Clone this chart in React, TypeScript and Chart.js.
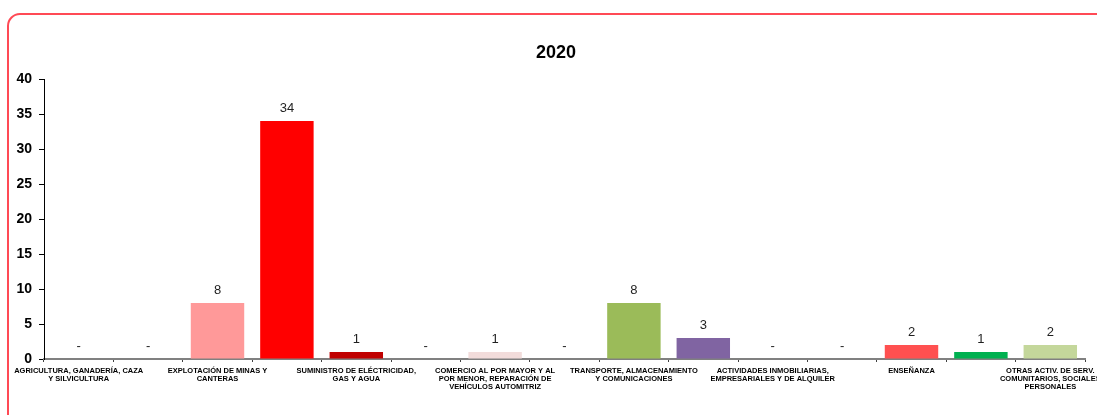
import React, { useEffect, useRef } from "react";
import { Chart, registerables } from "chart.js";

Chart.register(...registerables);

const chartTitle = "2020";

const categories: string[][] = [
  ["AGRICULTURA, GANADERÍA, CAZA", "Y SILVICULTURA"],
  ["PESCA"],
  ["EXPLOTACIÓN DE MINAS Y", "CANTERAS"],
  ["INDUSTRIAS MANUFACTURERAS"],
  ["SUMINISTRO DE ELÉCTRICIDAD,", "GAS Y AGUA"],
  ["CONSTRUCCIÓN"],
  ["COMERCIO AL POR MAYOR Y AL", "POR MENOR, REPARACIÓN DE", "VEHÍCULOS AUTOMITRIZ"],
  ["HOTELES Y RESTAURANTES"],
  ["TRANSPORTE, ALMACENAMIENTO", "Y COMUNICACIONES"],
  ["INTERMEDIACIÓN FINANCIERA"],
  ["ACTIVIDADES INMOBILIARIAS,", "EMPRESARIALES Y DE ALQUILER"],
  ["ADMINISTRACIÓN PÚBLICA Y DEFENSA"],
  ["ENSEÑANZA"],
  ["SERVICIOS SOCIALES Y DE SALUD"],
  ["OTRAS ACTIV. DE SERV.", "COMUNITARIOS, SOCIALES", "PERSONALES"],
];

const values: number[] = [0, 0, 8, 34, 1, 0, 1, 0, 8, 3, 0, 0, 2, 1, 2];

const barColors: string[] = [
  "#FF9999", "#FF9999", "#FF9999", "#FF0000", "#C00000", "#F2DCDB", "#F2DCDB",
  "#9BBB59", "#9BBB59", "#8064A2", "#8064A2", "#8064A2", "#FF5050", "#00B050", "#C4D79B",
];

const yTicks: number[] = [0, 5, 10, 15, 20, 25, 30, 35, 40];

const framePlugin = {
  id: "frame",
  beforeDraw(chart: any) {
    const ctx = chart.ctx;
    ctx.save();
    ctx.fillStyle = "#FFFFFF";
    ctx.fillRect(0, 0, chart.width, chart.height);
    ctx.strokeStyle = "#FF4A55";
    ctx.lineWidth = 2;
    const x = 8, y = 14, w = 1120, h = 440, r = 12;
    ctx.beginPath();
    ctx.moveTo(x + r, y);
    ctx.lineTo(x + w - r, y);
    ctx.arcTo(x + w, y, x + w, y + r, r);
    ctx.lineTo(x + w, y + h - r);
    ctx.arcTo(x + w, y + h, x + w - r, y + h, r);
    ctx.lineTo(x + r, y + h);
    ctx.arcTo(x, y + h, x, y + h - r, r);
    ctx.lineTo(x, y + r);
    ctx.arcTo(x, y, x + r, y, r);
    ctx.closePath();
    ctx.stroke();
    ctx.fillStyle = "#000000";
    ctx.font = "bold 18px Arial, 'Liberation Sans', sans-serif";
    ctx.textAlign = "center";
    ctx.textBaseline = "middle";
    ctx.fillText(chartTitle, 556, 53);
    ctx.restore();
  },
  afterDatasetsDraw(chart: any) {
    const ctx = chart.ctx;
    const meta = chart.getDatasetMeta(0);
    ctx.save();
    ctx.fillStyle = "#1F1F1F";
    ctx.font = "13px Arial, 'Liberation Sans', sans-serif";
    ctx.textAlign = "center";
    ctx.textBaseline = "middle";
    meta.data.forEach((bar: any, i: number) => {
      const v = values[i];
      const txt = v === 0 ? "-" : String(v);
      ctx.fillText(txt, bar.x, bar.y - 13);
    });
    ctx.restore();
  },
};

export default function App() {
  const ref = useRef<HTMLCanvasElement>(null);
  useEffect(() => {
    if (!ref.current) return;
    const chart = new Chart(ref.current, {
      type: "bar",
      data: {
        labels: categories,
        datasets: [
          {
            data: values,
            backgroundColor: barColors,
            barPercentage: 0.77,
            categoryPercentage: 1,
          },
        ],
      },
      options: {
        animation: false,
        responsive: false,
        layout: { padding: { left: 0, right: 12, top: 79, bottom: 0 } },
        plugins: { legend: { display: false }, tooltip: { enabled: false }, title: { display: false } },
        scales: {
          x: {
            offset: true,
            grid: {
              offset: true,
              drawOnChartArea: false,
              drawTicks: true,
              tickLength: 3,
              color: "#404040",
            },
            border: { display: true, color: "#808080", width: 2 },
            ticks: {
              autoSkip: false,
              maxRotation: 0,
              minRotation: 0,
              padding: 5,
              color: "#000000",
              font: { family: "Arial, 'Liberation Sans', sans-serif", size: 7.5, weight: "bold", lineHeight: 1.07 },
              callback: (_v: any, i: number) => (i % 2 === 0 ? categories[i] : ""),
            },
            afterFit: (s: any) => {
              s.height = 56;
              s.paddingLeft = 0;
              s.paddingRight = 0;
            },
          },
          y: {
            min: 0,
            max: 40,
            afterBuildTicks: (s: any) => {
              s.ticks = yTicks.map((v) => ({ value: v }));
            },
            grid: { drawOnChartArea: false, drawTicks: true, tickLength: 5, color: "#000000" },
            border: { display: true, color: "#000000", width: 1 },
            ticks: {
              padding: 7,
              color: "#000000",
              font: { family: "Arial, 'Liberation Sans', sans-serif", size: 14, weight: "bold" },
            },
            afterFit: (s: any) => {
              s.width = 44;
            },
          },
        },
      },
      plugins: [framePlugin],
    });
    return () => chart.destroy();
  }, []);
  return (
    <div style={{ position: "fixed", left: 0, top: 0, width: 1097, height: 415 }}>
      <canvas ref={ref} width={1097} height={415} style={{ width: 1097, height: 415, display: "block" }} />
    </div>
  );
}
